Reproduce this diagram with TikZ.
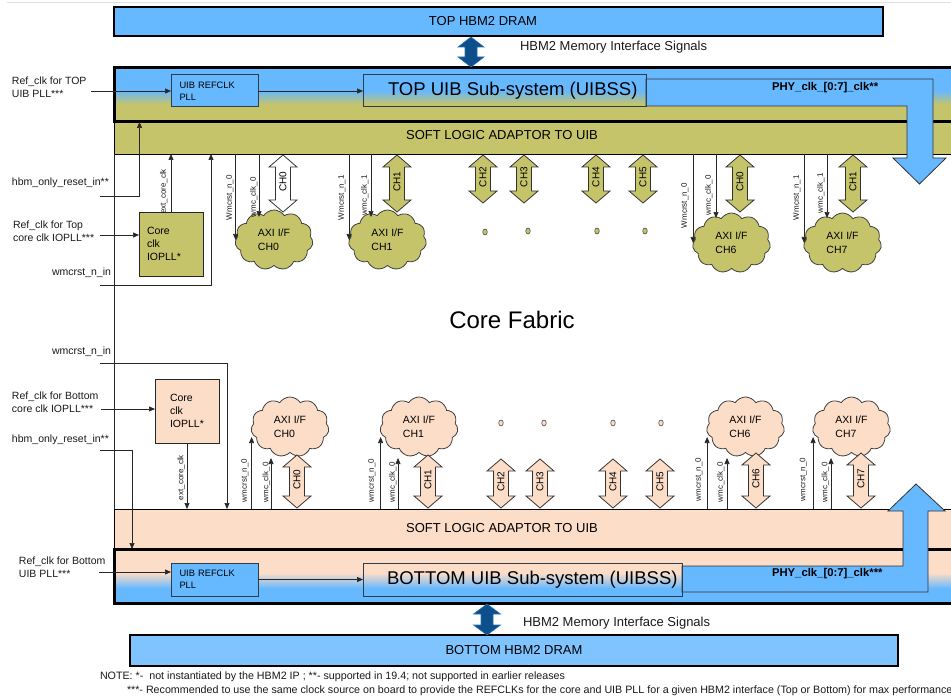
\documentclass[tikz,border=0pt]{standalone}
\usepackage{fontspec}
\setmainfont{Liberation Sans}
\usetikzlibrary{arrows.meta,shapes.symbols,shapes.geometric}

\definecolor{skyc}{HTML}{66B8FF}
\definecolor{skylite}{HTML}{80C4FF}
\definecolor{olivec}{HTML}{C6C46A}
\definecolor{peachc}{HTML}{FCDDC8}
\definecolor{navyc}{HTML}{0D4F8B}
\definecolor{edgec}{HTML}{2E3B48}

\newcommand\fsz[2]{\fontsize{#1}{#2}\selectfont}

% two-headed vertical block arrow: style, x, top y, bottom y, head half-width, shaft half-width, head length
\newcommand\vblock[7]{%
  \pgfmathsetmacro\vbHl{#2-#5}\pgfmathsetmacro\vbHr{#2+#5}%
  \pgfmathsetmacro\vbSl{#2-#6}\pgfmathsetmacro\vbSr{#2+#6}%
  \pgfmathsetmacro\vbT{#3+#7}\pgfmathsetmacro\vbB{#4-#7}%
  \path[#1] (#2,#3) -- (\vbHr,\vbT) -- (\vbSr,\vbT) -- (\vbSr,\vbB) -- (\vbHr,\vbB)
     -- (#2,#4) -- (\vbHl,\vbB) -- (\vbSl,\vbB) -- (\vbSl,\vbT) -- (\vbHl,\vbT) -- cycle;}

% channel link: name, x, top y, bottom y, fill, text
\newcommand\chlink[6]{%
  \vblock{chpipe,fill=#5}{#2}{#3}{#4}{14}{7.5}{12}%
  \pgfmathsetmacro\vbM{(#3+#4)/2-2}%
  \node[chtxt] (#1) at (#2,\vbM) {#6};}

\begin{document}
\begin{tikzpicture}[x=1pt,y=-1pt,
  every node/.style={inner sep=0pt,outer sep=0pt},
  lbl/.style={font=\fsz{10.5}{13}, align=left, text=black!90},
  vlbl/.style={font=\fsz{8}{9}, rotate=90, anchor=south west, text=black!90},
  wire/.style={draw=black!85, line width=0.7pt},
  wtip/.style={-{Triangle[length=6pt,width=5pt]}},
  dram/.style={draw=black, line width=1.5pt},
  dramtxt/.style={font=\fsz{13}{15}},
  band/.style={draw=black, line width=0.9pt},
  uibframe/.style={draw=black, line width=3pt},
  pllbox/.style={draw=edgec, line width=1pt, fill=skyc, minimum width=87pt,
    text width=70pt, inner xsep=8.5pt, align=left, font=\fsz{9.3}{12}},
  uibss/.style={draw=edgec, line width=1pt, minimum width=283pt},
  bigtxt/.style={font=\fsz{18.5}{20}},
  iopll/.style={draw=black!85, line width=0.8pt, minimum width=64pt, minimum height=64pt,
    align=left, font=\fsz{10.5}{13}},
  axicloud/.style={cloud, cloud puffs=11, cloud puff arc=115, cloud ignores aspect,
    minimum width=78pt, minimum height=60pt, draw=black!75, line width=0.8pt,
    align=left, font=\fsz{10.5}{14}},
  chpipe/.style={draw=black!80, line width=0.8pt},
  chtxt/.style={rotate=90, font=\fsz{10}{12}},
  iopipe/.style={fill=navyc, draw=navyc!70!skyc, line width=0.6pt},
  phyarrow/.style={fill=skyc, draw=black!80, line width=0.8pt},
  phytxt/.style={font=\fsz{11.3}{13}\bfseries},
  dotmark/.style={ellipse, minimum width=4.5pt, minimum height=6pt, draw=black!70, line width=0.6pt},
  notetxt/.style={font=\fsz{10.7}{12}, text=black!90}]

\useasboundingbox (0,0) rectangle (951,698);
\clip (0,0) rectangle (951,698);

\draw[black!12, line width=0.8pt] (7,2.5) -- (951,2.5);

% ---------------- top memory and UIB ----------------
\node[dram, fill=skyc, minimum width=769pt, minimum height=29pt] (topdram) at (498.5,21.5) {};
\node[dramtxt] (topdramtxt) at (483,21.5) {TOP HBM2 DRAM};

\node[band, fill=olivec, minimum width=849.5pt, minimum height=32pt] (topband) at (539.25,138) {};
\node[dramtxt] (topbandtxt) at (502,135.5) {SOFT LOGIC ADAPTOR TO UIB};

% UIB frame: blue above, fading into the adaptor colour below
\fill[skyc] (114.5,68) rectangle (964,91);
\shade[top color=skyc, bottom color=olivec] (114.5,90.5) rectangle (964,104.5);
\fill[olivec] (114.5,104) rectangle (964,122);
\node[uibframe, minimum width=849.5pt, minimum height=54pt] (topuib) at (539.25,95) {};

\vblock{iopipe}{471}{37}{67}{13}{6}{10}
\node[lbl, anchor=west, font=\fsz{13}{15}] (topiolbl) at (520,47) {HBM2 Memory Interface Signals};

\path[phyarrow] (646,79) -- (933,79) -- (933,158) -- (946,158) -- (919.5,184) -- (893,158)
  -- (907,158) -- (907,106) -- (646,106) -- cycle;
\node[phytxt, anchor=west] (topphy) at (772,88) {PHY\_clk\_[0:7]\_clk**};

\node[pllbox, minimum height=32pt] (toppll) at (214.5,91) {UIB REFCLK\\PLL};
\node[uibss, minimum height=32pt] (topuibss) at (504.5,91) {};
\node[bigtxt, anchor=west] (topuibsstxt) at (388,91) {TOP UIB Sub-system (UIBSS)};
\draw[wire, wtip] (toppll.east) -- (toppll.east -| topuibss.west);

\node[lbl, anchor=west] (reftopuib) at (12,87.5) {Ref\_clk for TOP\\UIB PLL***};
\coordinate (reftopuibin) at (91,91);
\draw[wire, wtip] (reftopuibin) -- (reftopuibin -| toppll.west);

% ---------------- top fabric side ----------------
\node[lbl, anchor=west] (hbmtoplbl) at (12,183) {hbm\_only\_reset\_in**};
\coordinate (hbmtopin) at (100,196);
\draw[wire, wtip] (hbmtopin) -| ([xshift=25pt]topuib.south west);

\node[iopll, fill=olivec, text width=48pt] (topiopll) at (171,244) {Core\\clk\\IOPLL*};
\node[lbl, anchor=west] (reftopcore) at (13,231.5) {Ref\_clk for Top\\core clk IOPLL***};
\coordinate (reftopcorein) at (100,235);
\draw[wire, wtip] (reftopcorein) -- (reftopcorein -| topiopll.west);
\draw[wire, wtip] (topiopll.north) -- (topiopll.north |- topband.south);
\node[vlbl] (topextlbl) at (167.5,214) {ext\_core\_clk};

\node[lbl, anchor=east] (wmtoplbl) at (111,273) {wmcrst\_n\_in};
\coordinate (wmtopin) at (100,285);
\draw[wire, wtip] (wmtopin) -| ([xshift=96.5pt]topband.south west);

% channel clouds, top
\node[axicloud, fill=olivec] (cT0) at (274,240) {AXI I/F\\CH0};
\node[axicloud, fill=olivec] (cT1) at (387.5,240) {AXI I/F\\CH1};
\node[axicloud, fill=olivec] (cT6) at (731.5,243) {AXI I/F\\CH6};
\node[axicloud, fill=olivec] (cT7) at (842.5,243) {AXI I/F\\CH7};

\draw[wire, wtip] (cT0.west |- topband.south) -- (cT0.west);
\draw[wire, wtip] ([xshift=-15pt]cT0.center |- topband.south) -- ([shift={(-15pt,23pt)}]cT0.center);
\draw[wire, wtip] (cT1.west |- topband.south) -- (cT1.west);
\draw[wire, wtip] ([xshift=-16.5pt]cT1.center |- topband.south) -- ([shift={(-16.5pt,23pt)}]cT1.center);
\draw[wire, wtip] (cT6.west |- topband.south) -- (cT6.west);
\draw[wire, wtip] ([xshift=-15.5pt]cT6.center |- topband.south) -- ([shift={(-15.5pt,25pt)}]cT6.center);
\draw[wire, wtip] (cT7.west |- topband.south) -- (cT7.west);
\draw[wire, wtip] ([xshift=-15.5pt]cT7.center |- topband.south) -- ([shift={(-15.5pt,25pt)}]cT7.center);

\node[vlbl] (tl0a) at (233.5,220) {Wmcrst\_n\_0};
\node[vlbl] (tl0b) at (257.5,217) {wmc\_clk\_0};
\node[vlbl] (tl1a) at (345.5,220) {Wmcrst\_n\_1};
\node[vlbl] (tl1b) at (368.5,215) {wmc\_clk\_1};
\node[vlbl] (tl6a) at (688.5,228) {Wmcrst\_n\_0};
\node[vlbl] (tl6b) at (712.5,215) {wmc\_clk\_0};
\node[vlbl] (tl7a) at (800.5,220) {Wmcrst\_n\_1};
\node[vlbl] (tl7b) at (824.5,213) {wmc\_clk\_1};

\chlink{tch0}{283}{155}{212}{white}{CH0}
\chlink{tch1}{397}{155}{212}{olivec}{CH1}
\chlink{tch2}{483}{155}{203}{olivec}{CH2}
\chlink{tch3}{524}{155}{203}{olivec}{CH3}
\chlink{tch4}{596}{155}{203}{olivec}{CH4}
\chlink{tch5}{643}{155}{203}{olivec}{CH5}
\chlink{tch6}{740}{155}{212}{olivec}{CH0}
\chlink{tch7}{853}{155}{212}{olivec}{CH1}

\node[dotmark, fill=olivec] (td1) at (485,232) {};
\node[dotmark, fill=olivec] (td2) at (528,231) {};
\node[dotmark, fill=olivec] (td3) at (597,231) {};
\node[dotmark, fill=olivec] (td4) at (645,231) {};

% ---------------- core fabric ----------------
\node[font=\fsz{24}{28}] (fabric) at (512,320) {Core Fabric};

% ---------------- bottom memory and UIB ----------------
\node[band, fill=peachc, minimum width=849.5pt, minimum height=40pt] (botband) at (539.25,529) {};
\node[dramtxt] (botbandtxt) at (502,528) {SOFT LOGIC ADAPTOR TO UIB};

\draw[wire] (topband.south west) -- (botband.north west);

% UIB frame: adaptor colour above, fading into blue below
\fill[peachc] (114.5,549) rectangle (964,573.5);
\shade[top color=peachc, bottom color=skyc] (114.5,573) rectangle (964,588.5);
\fill[skyc] (114.5,588) rectangle (964,603);
\node[uibframe, minimum width=849.5pt, minimum height=54pt] (botuib) at (539.25,576) {};

\path[phyarrow] (682,566) -- (903,566) -- (903,511) -- (888,511) -- (916,484) -- (945,511)
  -- (928,511) -- (928,592) -- (682,592) -- cycle;
\node[phytxt, anchor=west] (botphy) at (772,574) {PHY\_clk\_[0:7]\_clk***};

\node[pllbox, minimum height=33pt] (botpll) at (214.5,579.5) {UIB REFCLK\\PLL};
\node[uibss, minimum width=319pt, minimum height=33pt] (botuibss) at (522.5,579.5) {};
\node[bigtxt, anchor=west] (botuibsstxt) at (387,580) {BOTTOM UIB Sub-system (UIBSS)};
\draw[wire, wtip] (botpll.east) -- (botpll.east -| botuibss.west);

\node[lbl, anchor=west] (refbotuib) at (19,567) {Ref\_clk for Bottom\\UIB PLL***};
\coordinate (refbotuibin) at (99,572);
\draw[wire, wtip] (refbotuibin) -- (refbotuibin -| botpll.west);

\node[dram, fill=skylite, minimum width=768pt, minimum height=31pt] (botdram) at (514,650.5) {};
\node[dramtxt] (botdramtxt) at (514,650.5) {BOTTOM HBM2 DRAM};

\vblock{iopipe}{487}{604}{635}{13.5}{6}{10}
\node[lbl, anchor=west, font=\fsz{13}{15}] (botiolbl) at (523,623) {HBM2 Memory Interface Signals};

% ---------------- bottom fabric side ----------------
\node[lbl, anchor=east] (wmbotlbl) at (111,352) {wmcrst\_n\_in};
\coordinate (wmbotin) at (100,363);
\draw[wire, wtip] (wmbotin) -| ([xshift=112.5pt]botband.north west);

\node[iopll, fill=peachc, text width=34pt] (botiopll) at (187,411) {Core\\clk\\IOPLL*};
\node[lbl, anchor=west] (refbotcore) at (12,402) {Ref\_clk for Bottom\\core clk IOPLL***};
\coordinate (refbotcorein) at (101,409);
\draw[wire, wtip] (refbotcorein) -- (refbotcorein -| botiopll.west);
\draw[wire, wtip] (botiopll.south) -- (botiopll.south |- botband.north);
\node[vlbl] (botextlbl) at (185,500) {ext\_core\_clk};

\node[lbl, anchor=west] (hbmbotlbl) at (12,440) {hbm\_only\_reset\_in**};
\coordinate (hbmbotin) at (100,450);
\draw[wire, wtip] (hbmbotin) -| ([xshift=17.5pt]botuib.north west);

% channel clouds, bottom
\node[axicloud, fill=peachc] (cB0) at (290,427) {AXI I/F\\CH0};
\node[axicloud, fill=peachc] (cB1) at (419,427) {AXI I/F\\CH1};
\node[axicloud, fill=peachc] (cB6) at (745.5,427) {AXI I/F\\CH6};
\node[axicloud, fill=peachc] (cB7) at (851.5,427) {AXI I/F\\CH7};

\draw[wire, wtip] (cB0.west |- botband.north) -- ([yshift=-10pt]cB0.west);
\draw[wire, wtip] ([xshift=-19pt]cB0.center |- botband.north) -- ([shift={(-19pt,-31pt)}]cB0.center);
\draw[wire, wtip] (cB1.west |- botband.north) -- ([yshift=-10pt]cB1.west);
\draw[wire, wtip] ([xshift=-21pt]cB1.center |- botband.north) -- ([shift={(-21pt,-31pt)}]cB1.center);
\draw[wire, wtip] (cB6.west |- botband.north) -- ([yshift=-10pt]cB6.west);
\draw[wire, wtip] ([xshift=-18.5pt]cB6.center |- botband.north) -- ([shift={(-18.5pt,-31pt)}]cB6.center);
\draw[wire, wtip] (cB7.west |- botband.north) -- ([yshift=-10pt]cB7.west);
\draw[wire, wtip] ([xshift=-20.5pt]cB7.center |- botband.north) -- ([shift={(-20.5pt,-31pt)}]cB7.center);

\node[vlbl] (bl0a) at (248.5,502) {wmcrst\_n\_0};
\node[vlbl] (bl0b) at (270,502) {wmc\_clk\_0};
\node[vlbl] (bl1a) at (375.5,502) {wmcrst\_n\_0};
\node[vlbl] (bl1b) at (396.5,502) {wmc\_clk\_0};
\node[vlbl] (bl6a) at (702.5,501) {wmcrst\_n\_0};
\node[vlbl] (bl6b) at (724.5,502) {wmc\_clk\_0};
\node[vlbl] (bl7a) at (807,501) {wmcrst\_n\_0};
\node[vlbl] (bl7b) at (829,502) {wmc\_clk\_0};

\chlink{bch0}{297}{455}{508}{peachc}{CH0}
\chlink{bch1}{428}{455}{508}{peachc}{CH1}
\chlink{bch2}{501}{459}{508}{peachc}{CH2}
\chlink{bch3}{540}{459}{508}{peachc}{CH3}
\chlink{bch4}{613}{459}{508}{peachc}{CH4}
\chlink{bch5}{660}{459}{508}{peachc}{CH5}
\chlink{bch6}{756}{453}{508}{peachc}{CH6}
\chlink{bch7}{861}{453}{508}{peachc}{CH7}

\node[dotmark, fill=peachc] (bd1) at (501,423) {};
\node[dotmark, fill=peachc] (bd2) at (544,423) {};
\node[dotmark, fill=peachc] (bd3) at (613,423) {};
\node[dotmark, fill=peachc] (bd4) at (661,423) {};

% ---------------- notes ----------------
\node[notetxt, anchor=west] (note1) at (100,677) {NOTE: *-\ \ not instantiated by the HBM2 IP ; **- supported in 19.4; not supported in earlier releases};
\node[notetxt, anchor=west] (note2) at (127,691) {***- Recommended to use the same clock source on board to provide the REFCLKs for the core and UIB PLL for a given HBM2 interface (Top or Bottom) for max performance};

\end{tikzpicture}
\end{document}
